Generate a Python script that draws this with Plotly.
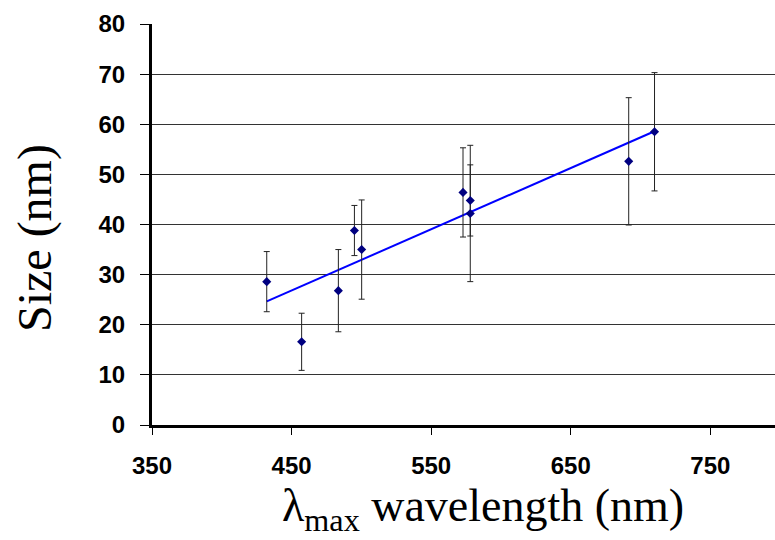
import numpy as np
import plotly.graph_objects as go

# Data
wavelength = [432.2, 457.2, 483.5, 495.0, 500.2, 572.8, 578.0, 578.0, 691.5, 710.0]
size_nm = [28.6, 16.6, 26.8, 38.8, 35.0, 46.4, 44.8, 42.2, 52.6, 58.5]
size_err = [6.0, 5.7, 8.2, 5.0, 9.9, 8.9, 7.1, 13.6, 12.7, 11.8]

x_ticks = [350, 450, 550, 650, 750]
y_ticks = [0, 10, 20, 30, 40, 50, 60, 70, 80]

x_title = "λ<sub>max</sub> wavelength (nm)"
y_title = "Size (nm)"

# Linear trendline (least squares)
slope, intercept = np.polyfit(wavelength, size_nm, 1)
fit_x = [min(wavelength), max(wavelength)]
fit_y = [slope * v + intercept for v in fit_x]

fig = go.Figure()
fig.add_trace(go.Scatter(
    x=fit_x, y=fit_y, mode="lines",
    line=dict(color="#0000FF", width=2),
    showlegend=False, hoverinfo="skip",
))
fig.add_trace(go.Scatter(
    x=wavelength, y=size_nm, mode="markers",
    marker=dict(symbol="diamond", size=7, color="#000080"),
    error_y=dict(type="data", array=size_err, visible=True,
                 color="#222222", thickness=1, width=3),
    showlegend=False,
))

tick_font = dict(family="Liberation Sans, Arial, sans-serif", size=24, color="black")
serif = "Liberation Serif, Times New Roman, serif"

fig.update_layout(
    width=775, height=540,
    margin=dict(l=152, r=0, t=24, b=115),
    paper_bgcolor="white", plot_bgcolor="white",
    xaxis=dict(
        range=[350, 796.3],
        tickvals=x_ticks,
        ticktext=[f"<b>{v}</b>" for v in x_ticks],
        tickfont=tick_font,
        ticks="outside", ticklen=7, tickwidth=1, tickcolor="black",
        showline=True, linecolor="black", linewidth=3,
        showgrid=False, zeroline=False,
        ticklabelstandoff=10,
    ),
    yaxis=dict(
        range=[0, 80],
        tickvals=y_ticks,
        ticktext=[f"<b>{v}</b>" for v in y_ticks],
        tickfont=tick_font,
        ticks="outside", ticklen=9, tickwidth=1, tickcolor="black",
        showline=True, linecolor="black", linewidth=3,
        showgrid=True, gridcolor="#333333", gridwidth=1,
        zeroline=False,
        ticklabelstandoff=10,
    ),
    annotations=[
        dict(
            text=y_title, textangle=-90, showarrow=False,
            xref="paper", yref="paper", x=-0.188, y=0.466,
            xanchor="center", yanchor="middle",
            font=dict(family=serif, size=48, color="black"),
        ),
        dict(
            text=x_title, showarrow=False,
            xref="paper", yref="paper", x=0.531, y=-0.209,
            xanchor="center", yanchor="middle",
            font=dict(family=serif, size=46, color="black"),
        ),
    ],
)

fig.write_html("out.html")
